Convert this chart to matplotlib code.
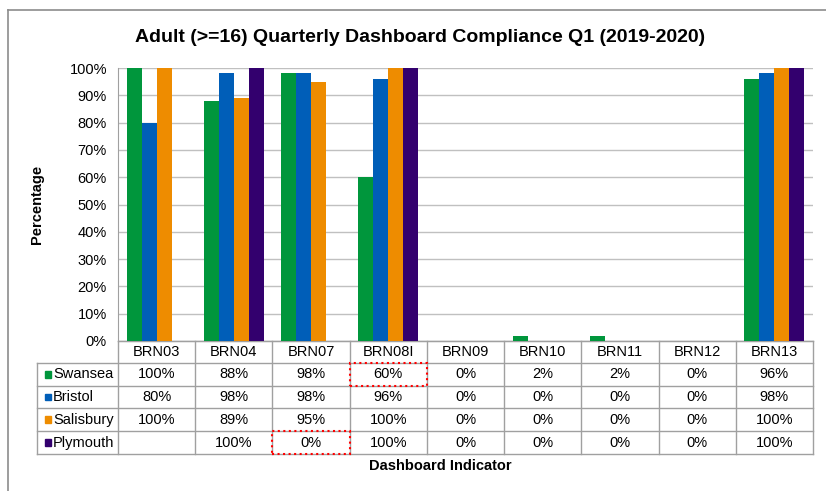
import matplotlib
matplotlib.use('Agg')
from matplotlib import pyplot as plt
from matplotlib.patches import Rectangle
from matplotlib.lines import Line2D
import matplotlib.transforms as mtransforms
import numpy as np

plt.rcParams['font.family'] = ['Liberation Sans', 'DejaVu Sans']

indicators = ['BRN03', 'BRN04', 'BRN07', 'BRN08I', 'BRN09', 'BRN10', 'BRN11', 'BRN12', 'BRN13']
sites = ['Swansea', 'Bristol', 'Salisbury', 'Plymouth']
swansea = [100, 88, 98, 60, 0, 2, 2, 0, 96]
bristol = [80, 98, 98, 96, 0, 0, 0, 0, 98]
salisbury = [100, 89, 95, 100, 0, 0, 0, 0, 100]
plymouth = [None, 100, 0, 100, 0, 0, 0, 0, 100]
colors = ['#00963c', '#005eb8', '#ee8c00', '#33006e']
# cells boxed with red dotted line: (row, column)
flagged = [(0, 3), (3, 2)]

series = [swansea, bristol, salisbury, plymouth]

fig = plt.figure(figsize=(8.26, 4.91), dpi=100)
ax = fig.add_axes([118 / 826, 150 / 491, 695 / 826, 273 / 491])

x = np.arange(len(indicators))
w = 0.194
for k, (vals, c) in enumerate(zip(series, colors)):
    h = [np.nan if v is None else v for v in vals]
    ax.bar(x + (k - 1.5) * w, h, width=w, color=c, zorder=3)

ax.set_xlim(-0.5, len(indicators) - 0.5)
ax.set_ylim(0, 100)
ax.set_yticks(range(0, 101, 10))
ax.set_yticklabels([f'{t}%' for t in range(0, 101, 10)], fontsize=10.5)
ax.set_xticks([])
ax.tick_params(axis='y', length=0, pad=8)
ax.grid(axis='y', color='#c0c0c0', lw=1, zorder=0)
for s in ['top', 'right']:
    ax.spines[s].set_visible(False)
ax.spines['left'].set_color('#a0a0a0')
ax.spines['bottom'].set_color('#a0a0a0')

# data table under the axes
tr = mtransforms.blended_transform_factory(ax.transData, ax.transAxes)
rows_y = [0, -0.0806, -0.1648, -0.2454, -0.3297, -0.4139]
lab_x = -1.55
edge = '#a0a0a0'
n = len(indicators)

def line(xs, ys):
    ax.add_line(Line2D(xs, ys, transform=tr, color=edge, lw=1, clip_on=False))

for i in range(n + 1):
    line([i - 0.5, i - 0.5], [rows_y[0], rows_y[-1]])
line([lab_x, lab_x], [rows_y[1], rows_y[-1]])
for j, yv in enumerate(rows_y):
    line([lab_x if j >= 1 else -0.5, n - 0.5], [yv, yv])

for i, name in enumerate(indicators):
    ax.text(i, (rows_y[0] + rows_y[1]) / 2, name, transform=tr, ha='center', va='center', fontsize=10.5)

sq_w, sq_h = 0.08, 0.024
for r, (name, vals, c) in enumerate(zip(sites, series, colors)):
    yc = (rows_y[r + 1] + rows_y[r + 2]) / 2
    ax.add_patch(Rectangle((lab_x + 0.1, yc - sq_h / 2), sq_w, sq_h, transform=tr, color=c,
                           clip_on=False))
    ax.text(lab_x + 0.21, yc, name, transform=tr, ha='left', va='center', fontsize=10.5)
    for i, v in enumerate(vals):
        if v is not None:
            ax.text(i, yc, f'{v}%', transform=tr, ha='center', va='center', fontsize=10.5)

for r, i in flagged:
    ax.add_patch(Rectangle((i - 0.5, rows_y[r + 2]), 1, rows_y[r + 1] - rows_y[r + 2], transform=tr,
                           fill=False, edgecolor='red', ls=':', lw=1.5, clip_on=False, zorder=5))

ax.set_ylabel('Percentage', fontsize=10.5, fontweight='bold', labelpad=18)
fig.text(440 / 826, 1 - 466 / 491, 'Dashboard Indicator', ha='center', va='center', fontsize=10.5,
         fontweight='bold')
fig.text(420 / 826, 1 - 37 / 491, 'Adult (>=16) Quarterly Dashboard Compliance Q1 (2019-2020)',
         ha='center', va='center', fontsize=14, fontweight='bold')

# outer chart frame
fig.add_artist(Line2D([8 / 826, 1], [1 - 10 / 491, 1 - 10 / 491], transform=fig.transFigure, color='#8c8c8c', lw=1.2))
fig.add_artist(Line2D([8 / 826, 8 / 826], [0, 1 - 10 / 491], transform=fig.transFigure, color='#8c8c8c', lw=1.2))

fig.savefig('out.png', dpi=100)
